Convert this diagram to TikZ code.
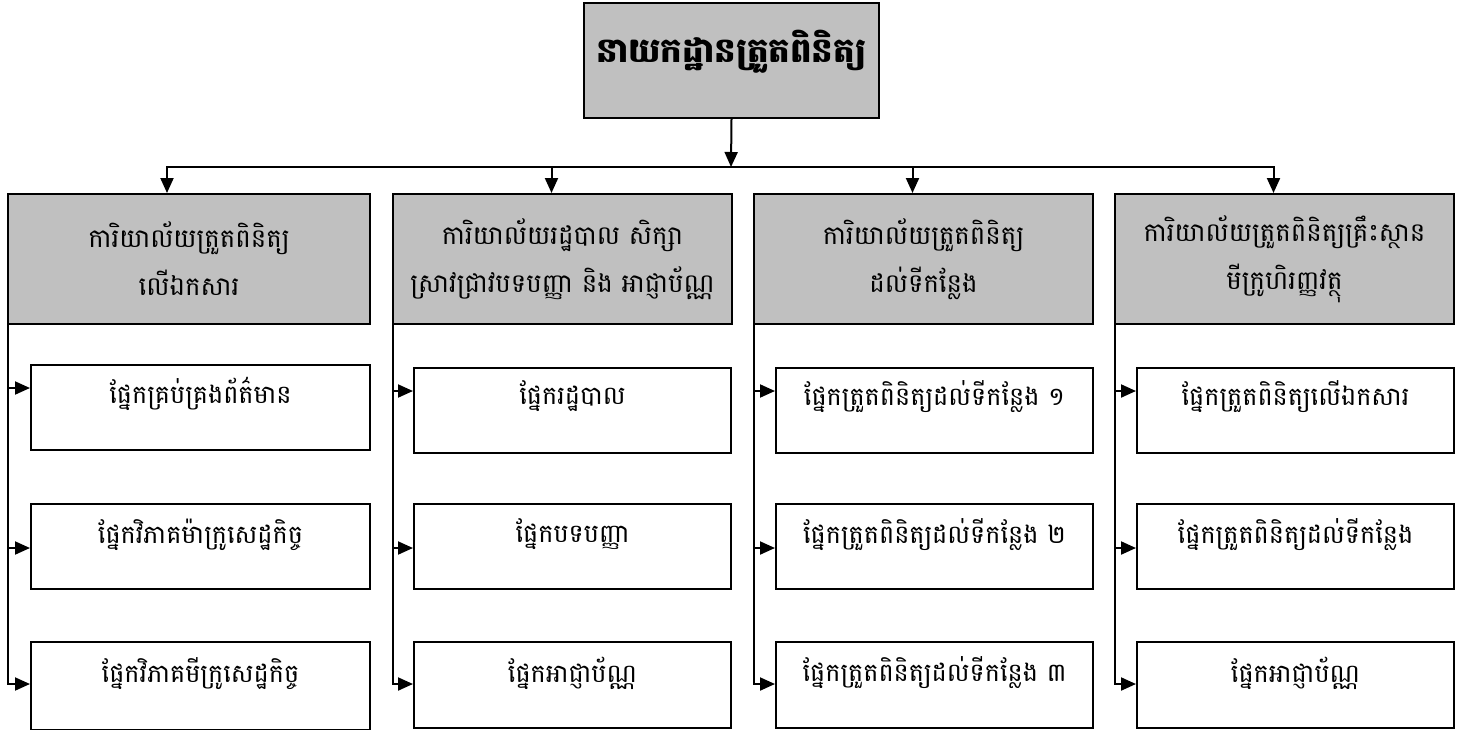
\documentclass[tikz,border=0pt]{standalone}
\usepackage{fontspec}
\newfontfamily\kh[Script=Khmer]{Battambang}
\usetikzlibrary{arrows.meta}
\definecolor{hdrgray}{HTML}{C0C0C0}
\begin{document}
\begin{tikzpicture}[x=1pt,y=-1pt,
  line width=2pt,
  boxbase/.style={draw=black, line width=2pt, anchor=north west, inner sep=0pt},
  topbox/.style={boxbase, fill=hdrgray, minimum width=295pt, minimum height=115pt},
  hdrbox/.style={boxbase, fill=hdrgray, minimum width=339pt, minimum height=130pt},
  subbox/.style={boxbase, fill=white, minimum width=317pt, minimum height=85pt},
  htxt/.style={font=\kh\fontsize{26}{48}\selectfont, align=center, inner sep=0pt},
  txt/.style={font=\kh\fontsize{25.5}{48}\selectfont, align=center, inner sep=0pt},
  ttxt/.style={font=\kh\bfseries\fontsize{34}{40}\selectfont, align=center, inner sep=0pt},
  arr/.style={-{Triangle[length=15pt,width=13pt]}, line width=2pt}
]
\useasboundingbox (0,0) rectangle (1461,729);
% top
\node[topbox] (top) at (583,2) {};
\node[ttxt] (toptxt) at (731,52) {នាយកដ្ឋានត្រួតពិនិត្យ};
% headers
\node[hdrbox, minimum width=362pt] (h1) at (7,193) {};
\node[hdrbox] (h2) at (392,193) {};
\node[hdrbox] (h3) at (753,193) {};
\node[hdrbox] (h4) at (1114,193) {};
\node[htxt] (h1t) at (h1.center) {ការិយាល័យត្រួតពិនិត្យ\\លើឯកសារ};
\node[htxt] (h2t) at (h2.center) {ការិយាល័យរដ្ឋបាល សិក្សា\\ស្រាវជ្រាវបទបញ្ញា និង អាជ្ញាប័ណ្ណ};
\node[htxt] (h3t) at (h3.center) {ការិយាល័យត្រួតពិនិត្យ\\ដល់ទីកន្លែង};
\node[htxt] (h4t) at (h4.center) {ការិយាល័យត្រួតពិនិត្យគ្រឹះស្ថាន\\មីក្រូហិរញ្ញវត្ថុ};
% bus
\coordinate (bus) at (731,167);
\draw[arr] (top.south) -- (bus);
\draw[arr] (bus) -| ([xshift=-22pt]h1.north);
\draw[arr] (bus) -| ([xshift=-11pt]h2.north);
\draw[arr] (bus) -| ([xshift=-11pt]h3.north);
\draw[arr] (bus) -| ([xshift=-11pt]h4.north);
% sub boxes
\node[subbox, minimum width=339pt] (s11) at (30,364) {};
\node[subbox, minimum width=339pt] (s12) at (30,503) {};
\node[subbox, minimum width=339pt, minimum height=88pt] (s13) at (30,641) {};
\node[subbox] (s21) at (413,367) {};
\node[subbox] (s22) at (413,503) {};
\node[subbox, minimum height=86pt] (s23) at (413,641) {};
\node[subbox] (s31) at (775,367) {};
\node[subbox] (s32) at (775,503) {};
\node[subbox, minimum height=86pt] (s33) at (775,641) {};
\node[subbox] (s41) at (1136,367) {};
\node[subbox] (s42) at (1136,503) {};
\node[subbox, minimum height=86pt] (s43) at (1136,641) {};
% sub texts
\node[txt] (s11t) at ([yshift=14pt]s11.center) {ផ្នែកគ្រប់គ្រងព័ត៌មាន};
\node[txt] (s12t) at ([yshift=12pt]s12.center) {ផ្នែកវិភាគម៉ាក្រូសេដ្ឋកិច្ច};
\node[txt] (s13t) at ([yshift=12pt]s13.center) {ផ្នែកវិភាគមីក្រូសេដ្ឋកិច្ច};
\node[txt] (s21t) at ([yshift=14pt]s21.center) {ផ្នែករដ្ឋបាល};
\node[txt] (s22t) at ([yshift=12pt]s22.center) {ផ្នែកបទបញ្ញា};
\node[txt] (s23t) at ([yshift=12pt]s23.center) {ផ្នែកអាជ្ញាប័ណ្ណ};
\node[txt] (s31t) at ([yshift=14pt]s31.center) {ផ្នែកត្រួតពិនិត្យដល់ទីកន្លែង ១};
\node[txt] (s32t) at ([yshift=12pt]s32.center) {ផ្នែកត្រួតពិនិត្យដល់ទីកន្លែង ២};
\node[txt] (s33t) at ([yshift=12pt]s33.center) {ផ្នែកត្រួតពិនិត្យដល់ទីកន្លែង ៣};
\node[txt] (s41t) at ([yshift=14pt]s41.center) {ផ្នែកត្រួតពិនិត្យលើឯកសារ};
\node[txt] (s42t) at ([yshift=12pt]s42.center) {ផ្នែកត្រួតពិនិត្យដល់ទីកន្លែង};
\node[txt] (s43t) at ([yshift=12pt]s43.center) {ផ្នែកអាជ្ញាប័ណ្ណ};
% branches
\foreach \c in {1,2,3,4}{
  \draw[arr] ([xshift=1pt]h\c.south west) |- ([yshift=-24pt]s\c1.north west);
  \draw[arr] ([xshift=1pt]h\c.south west) |- ([yshift=-45pt]s\c2.north west);
  \draw[arr] ([xshift=1pt]h\c.south west) |- ([yshift=-43pt]s\c3.north west);
}
\end{tikzpicture}
\end{document}
